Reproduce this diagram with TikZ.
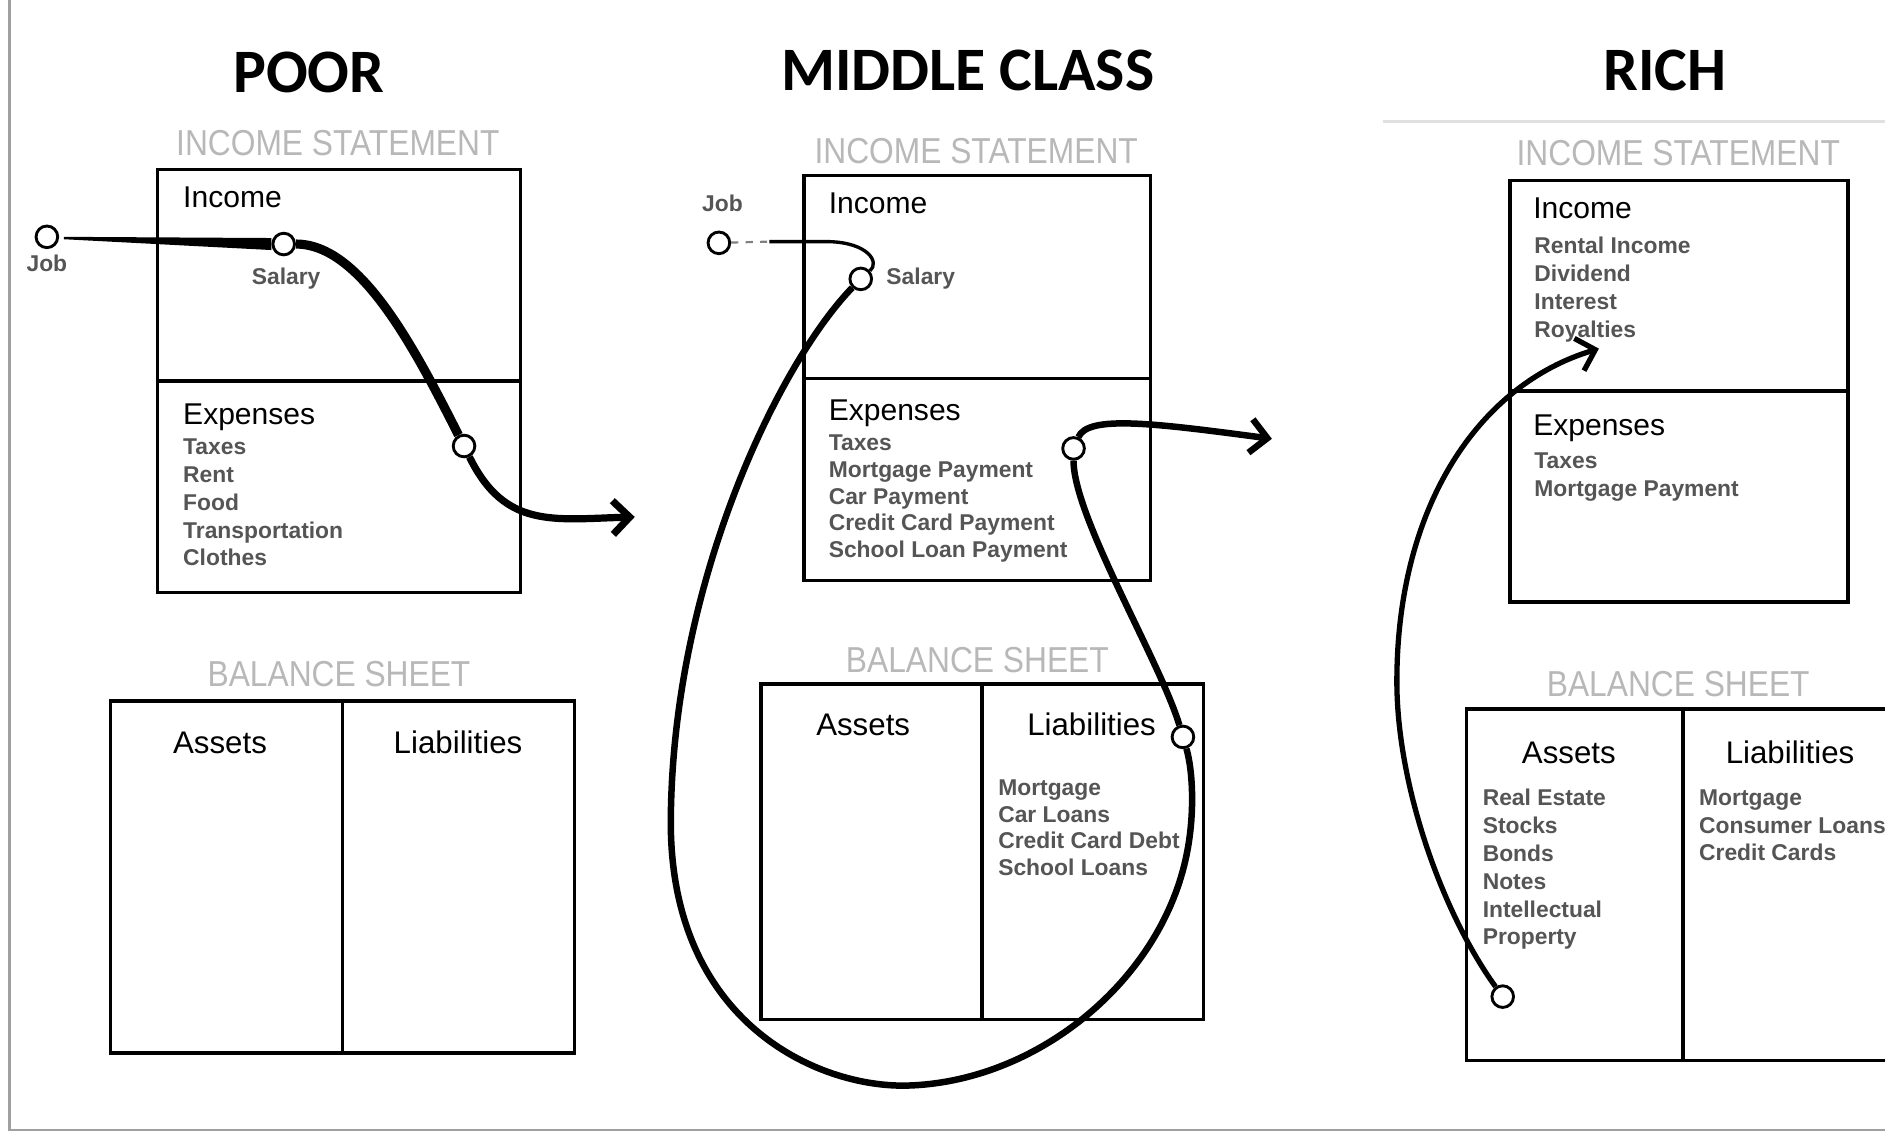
\documentclass[tikz,border=0pt]{standalone}
\usepackage{fontspec}
\setmainfont{Liberation Sans}
\newfontfamily\titlefont{Carlito}
\newfontfamily\condfont[FakeStretch=0.88]{Liberation Sans}
\usetikzlibrary{arrows.meta,calc}
\definecolor{itemgray}{HTML}{555555}
\definecolor{labgray}{HTML}{B8B8B8}
\definecolor{framegray}{HTML}{A0A0A0}
\tikzset{
  title/.style={font=\titlefont\bfseries\fontsize{25.7}{30}\selectfont, anchor=base, inner sep=0},
  sect/.style={font=\condfont\fontsize{15}{18}\selectfont, text=labgray, anchor=base, inner sep=0},
  head/.style={font=\fontsize{12.5}{15}\selectfont, anchor=base west, inner sep=0},
  colhead/.style={font=\fontsize{13}{15}\selectfont, anchor=base, inner sep=0},
  item/.style={font=\bfseries\fontsize{9.5}{11}\selectfont, text=itemgray, anchor=base west, inner sep=0},
  lbl/.style={font=\bfseries\fontsize{9.5}{11}\selectfont, text=itemgray, anchor=base, inner sep=0},
  box/.style={draw, line width=1.5pt},
  dot/.style={circle, draw, fill=white, line width=1.2pt, minimum size=9pt, inner sep=0},
  flow/.style={line width=2.7pt},
  barb/.style={-{Straight Barb[length=7pt,width=14pt]}},
}
\begin{document}
\begin{tikzpicture}[x=0.5pt,y=-0.5pt]
\clip (0,0) rectangle (1568,942);
\fill[white] (0,0) rectangle (1568,942);
\draw[framegray, line width=1pt] (8,0) -- (8,940) -- (1568,940);
\draw[black!12, line width=1pt] (1150,101) -- (1568,101);

% ================= POOR =================
\node[title] (tpoor) at (257,77) {POOR};
\node[sect] (pis) at (281,129) {INCOME STATEMENT};
\draw[box] (131,141) rectangle (433,493);
\draw[box] (131,317) -- (433,317);
\node[head] (pinc) at (152,173) {Income};
\node[head] (pexph) at (152,353) {Expenses};
\foreach \t [count=\i from 0] in {Taxes,Rent,Food,Transportation,Clothes}
  \node[item] (pi\i) at (152,378+23.2*\i) {\t};
\node[sect] (pbs) at (282,571) {BALANCE SHEET};
\draw[box] (92,583) rectangle (478,876);
\draw[box] (285,583) -- (285,876);
\node[colhead] (pass) at (183,627) {Assets};
\node[colhead] (plia) at (381,627) {Liabilities};

\node[dot] (pjob) at (39,197) {};
\node[lbl] (pjobl) at (39,226) {Job};
\node[dot] (psal) at (236,203) {};
\node[lbl] (psall) at (238,237) {Salary};
\node[dot] (pexp) at (386,371) {};
\coordinate (parr) at (528,430);
\fill ($(pjob.east)+(4,0)$) -- ($(psal.west)+(0,-5)$) -- ($(psal.west)+(0,5)$) -- ($(pjob.east)+(4,2)$) -- cycle;
\draw[line width=3.8pt] (psal) .. controls (300,203) and (345,290) .. (pexp);
\draw[line width=3pt, barb] (pexp) .. controls (420,440) and (460,432) .. (parr);

% ================= MIDDLE CLASS =================
\node[title] (tmid) at (805,75) {MIDDLE CLASS};
\node[sect] (mis) at (812,136) {INCOME STATEMENT};
\draw[box] (669,146) rectangle (957,483);
\draw[box] (669,315) -- (957,315);
\node[head] (minc) at (689,178) {Income};
\node[head] (mexph) at (689,350) {Expenses};
\foreach \t [count=\i from 0] in {Taxes,Mortgage Payment,Car Payment,Credit Card Payment,School Loan Payment}
  \node[item] (mi\i) at (689,375+22.2*\i) {\t};
\node[sect] (mbs) at (813,559) {BALANCE SHEET};
\draw[box] (633,569) rectangle (1001,848);
\draw[box] (817,569) -- (817,848);
\node[colhead] (mass) at (718,612) {Assets};
\node[colhead] (mlia) at (908,612) {Liabilities};
\foreach \t [count=\i from 0] in {Mortgage,Car Loans,Credit Card Debt,School Loans}
  \node[item] (ml\i) at (830,662+22*\i) {\t};

\node[dot] (mjob) at (598,202) {};
\node[lbl] (mjobl) at (601,176) {Job};
\node[dot] (msal) at (716,232) {};
\node[item] (msall) at (737,237) {Salary};
\node[dot] (mexp) at (893,373) {};
\node[dot] (mliad) at (984,613) {};
\coordinate (mjobend) at (640,201);
\coordinate (marr) at (1058,365);
\draw[gray, dashed, line width=0.9pt] (mjob) -- (mjobend);
\draw[line width=1.4pt] (mjobend) -- (690,201) .. controls (722,202) and (732,218) .. (msal);
\draw[flow] (msal) .. controls (650,300) and (560,480) .. (558,680)
  .. controls (556,850) and (680,905) .. (755,903)
  .. controls (860,900) and (960,820) .. (985,720)
  .. controls (995,680) and (992,640) .. (mliad);
\draw[flow] (mliad) .. controls (965,550) and (893,430) .. (mexp);
\draw[flow, barb] (mexp) .. controls (905,345) and (960,352) .. (marr);

% ================= RICH =================
\node[title] (trich) at (1385,75) {RICH};
\node[sect] (ris) at (1396,138) {INCOME STATEMENT};
\draw[box] (1256,150) rectangle (1537,501);
\draw[box] (1256,325) -- (1537,325);
\node[head] (rinc) at (1275,182) {Income};
\foreach \t [count=\i from 0] in {Rental Income,Dividend,Interest,Royalties}
  \node[item] (ri\i) at (1276,211+23.3*\i) {\t};
\node[head] (rexph) at (1275,362) {Expenses};
\foreach \t [count=\i from 0] in {Taxes,Mortgage Payment}
  \node[item] (re\i) at (1276,390+23*\i) {\t};
\node[sect] (rbs) at (1396,579) {BALANCE SHEET};
\draw[box] (1220,590) rectangle (1590,882);
\draw[box] (1400,590) -- (1400,882);
\node[colhead] (rass) at (1305,635) {Assets};
\node[colhead] (rlia) at (1489,635) {Liabilities};
\foreach \t [count=\i from 0] in {Real Estate,Stocks,Bonds,Notes,Intellectual,Property}
  \node[item] (ra\i) at (1233,670+23.2*\i) {\t};
\foreach \t [count=\i from 0] in {Mortgage,Consumer Loans,Credit Cards}
  \node[item] (rl\i) at (1413,670+23*\i) {\t};

\node[dot] (rdot) at (1250,829) {};
\coordinate (rarr) at (1330,290);
\draw[line width=2.2pt, barb] (rdot) .. controls (1200,760) and (1160,650) .. (1162,560)
  .. controls (1164,420) and (1230,320) .. (rarr);
\end{tikzpicture}
\end{document}
